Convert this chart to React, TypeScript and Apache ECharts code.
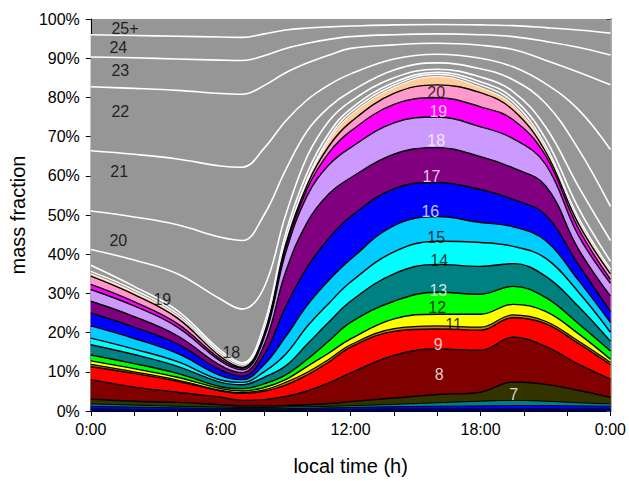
import React, { useEffect, useRef } from "react";
import * as echarts from "echarts";

// sample times (hours)
const T = [0, 2, 4, 6, 7, 8, 9, 10, 11, 12, 14, 16, 18, 19.5, 21, 22.5, 24];

// gray region boundaries (upper edges, % cumulative), white lines
const g24 = [96.0, 95.8, 95.6, 95.4, 95.3, 96.2, 97.2, 97.7, 98.0, 98.2, 98.5, 98.6, 98.5, 98.3, 97.8, 97.2, 96.4];
const g23 = [90.3, 90.1, 89.8, 89.5, 89.4, 90.6, 92.5, 93.8, 94.8, 95.5, 96.0, 96.2, 96.0, 95.5, 94.3, 92.8, 90.8];
const g22 = [82.7, 82.3, 81.8, 81.0, 80.8, 83.0, 86.3, 88.8, 90.8, 92.5, 93.4, 93.8, 93.3, 92.2, 89.5, 86.5, 83.2];
const g21 = [66.4, 65.5, 64.3, 62.5, 62.2, 67.0, 74.0, 79.4, 83.2, 86.0, 89.8, 91.0, 90.0, 87.8, 83.5, 77.0, 66.7];
const g20 = [51.0, 49.5, 47.5, 44.3, 43.5, 50.0, 61.5, 71.5, 77.5, 81.5, 87.0, 88.8, 87.3, 84.5, 78.5, 67.0, 52.2];
const g19 = [41.2, 38.5, 35.0, 28.5, 26.0, 31.5, 50.0, 65.0, 74.0, 79.0, 85.0, 87.2, 85.2, 81.5, 72.5, 57.5, 43.5];
const g18 = [37.2, 31.8, 25.6, 15.4, 12.3, 22.0, 45.3, 60.8, 70.9, 77.1, 83.8, 86.4, 84.0, 79.8, 69.5, 52.0, 38.2];
const g17 = [35.6, 30.9, 24.8, 14.8, 11.9, 20.6, 43.7, 59.2, 69.7, 76.2, 83.1, 85.9, 83.2, 78.8, 67.8, 49.6, 36.2];

// coloured bands (upper edges, % cumulative)
const peach = [35.0, 30.3, 24.2, 14.2, 11.4, 20.0, 43.0, 58.5, 69.0, 75.5, 82.5, 85.3, 82.5, 78.0, 67.0, 48.8, 35.6];
const pink = [34.4, 29.7, 23.7, 13.8, 11.1, 19.6, 42.5, 57.8, 67.6, 73.7, 81.0, 83.2, 81.2, 76.8, 66.2, 48.0, 35.0];
const magenta = [32.3, 27.9, 22.3, 13.2, 10.9, 19.2, 41.7, 56.8, 65.9, 71.4, 78.2, 79.9, 77.6, 74.3, 65.2, 46.8, 33.6];
const lavender = [31.0, 26.8, 21.4, 12.7, 10.5, 18.6, 40.4, 55.0, 62.8, 67.2, 73.5, 75.0, 72.5, 69.5, 63.0, 45.0, 32.6];
const purple = [28.0, 24.1, 19.2, 11.6, 9.8, 16.8, 35.5, 48.2, 55.4, 59.5, 65.5, 67.2, 64.9, 62.0, 57.5, 41.5, 29.3];
const blue = [25.0, 21.4, 17.1, 10.4, 8.9, 14.3, 26.6, 36.7, 44.1, 49.6, 56.7, 58.3, 56.5, 54.0, 50.0, 37.5, 25.4];
const sky = [21.7, 18.5, 14.7, 9.0, 8.0, 11.8, 19.0, 27.0, 33.4, 38.7, 47.3, 49.6, 48.1, 47.0, 43.5, 33.5, 22.6];
const cyan = [18.6, 15.8, 12.6, 7.9, 7.3, 10.0, 14.5, 21.6, 27.5, 32.9, 40.6, 43.3, 43.0, 42.0, 39.0, 30.5, 20.1];
const teal = [16.9, 14.4, 11.4, 7.3, 6.7, 8.6, 11.5, 17.1, 22.7, 28.0, 35.0, 37.4, 36.9, 37.6, 34.4, 26.8, 17.8];
const green = [14.3, 12.1, 9.6, 6.2, 5.7, 6.9, 9.2, 13.2, 17.9, 22.6, 28.0, 30.3, 29.8, 31.8, 29.0, 22.4, 15.3];
const yellow = [12.8, 10.8, 8.6, 5.7, 5.1, 6.0, 8.0, 11.4, 14.8, 18.4, 23.5, 24.7, 24.7, 27.2, 25.4, 19.8, 13.2];
const orange = [11.9, 10.0, 7.9, 5.3, 4.7, 5.4, 7.3, 9.9, 13.2, 16.9, 21.0, 21.7, 21.4, 24.5, 22.9, 17.9, 12.4];
const red = [11.3, 9.6, 7.6, 5.1, 4.5, 5.0, 6.6, 9.2, 12.5, 16.3, 20.3, 20.9, 20.6, 23.8, 22.3, 17.3, 11.8];
const maroon = [8.0, 6.1, 4.8, 3.5, 2.7, 2.9, 3.7, 5.1, 7.2, 9.7, 14.2, 15.8, 15.5, 18.8, 16.5, 12.0, 8.1];
const olive = [3.0, 2.5, 2.2, 1.6, 1.3, 1.3, 1.4, 1.6, 1.9, 2.4, 3.3, 4.2, 4.8, 7.4, 6.8, 5.3, 3.5];
const teal2 = [1.8, 1.5, 1.2, 1.0, 0.9, 0.9, 1.0, 1.1, 1.2, 1.35, 1.7, 2.1, 2.5, 2.7, 2.5, 2.1, 1.8];
const blue2 = [1.2, 1.0, 0.8, 0.7, 0.6, 0.6, 0.6, 0.7, 0.8, 0.9, 1.1, 1.2, 1.3, 1.4, 1.4, 1.3, 1.2];
const navy = [0.5, 0.4, 0.3, 0.3, 0.3, 0.3, 0.3, 0.3, 0.4, 0.4, 0.5, 0.5, 0.5, 0.5, 0.5, 0.5, 0.5];

// band labels
const labelText = ["25+", "24", "23", "22", "21", "20", "19", "18", "20", "19", "18", "17", "16", "15", "14", "13", "12", "11", "9", "8", "7"];
const labelT = [1.58, 1.27, 1.36, 1.36, 1.31, 1.27, 3.3, 6.49, 15.95, 16.05, 15.95, 15.73, 15.68, 15.95, 16.09, 16.05, 16.0, 16.75, 16.05, 16.09, 19.53];
const labelV = [97.5, 92.7, 86.8, 76.5, 61.2, 43.6, 28.4, 14.9, 81.2, 76.3, 69.0, 59.8, 50.9, 44.3, 38.4, 30.8, 26.4, 22.0, 17.0, 9.4, 4.3];
const labelColor = ["#000", "#000", "#000", "#000", "#000", "#000", "#000", "#000", "#000", "#fff", "#fff", "#fff", "#fff", "#000", "#000", "#fff", "#000", "#000", "#fff", "#fff", "#fff"];

const xTickLabels = ["0:00", "6:00", "12:00", "18:00", "0:00"];

const FONT = "Liberation Sans, Arial, sans-serif";
const GRAY = "#969696";

type Band = { name: string; data: number[]; fill: string; line: string; width: number };

const bands: Band[] = [
  { name: "g24", data: g24, fill: GRAY, line: "#ffffff", width: 1.6 },
  { name: "g23", data: g23, fill: GRAY, line: "#ffffff", width: 1.6 },
  { name: "g22", data: g22, fill: GRAY, line: "#ffffff", width: 1.6 },
  { name: "g21", data: g21, fill: GRAY, line: "#ffffff", width: 1.6 },
  { name: "g20", data: g20, fill: GRAY, line: "#ffffff", width: 1.6 },
  { name: "g19", data: g19, fill: GRAY, line: "#ffffff", width: 1.6 },
  { name: "g18", data: g18, fill: GRAY, line: "#ffffff", width: 1.6 },
  { name: "g17", data: g17, fill: GRAY, line: "#ffffff", width: 1.4 },
  { name: "peach", data: peach, fill: "#FFCC99", line: "#ffffff", width: 1 },
  { name: "pink", data: pink, fill: "#FF99CC", line: "#000000", width: 1.4 },
  { name: "magenta", data: magenta, fill: "#FF00FF", line: "#000000", width: 1.4 },
  { name: "lavender", data: lavender, fill: "#CC99FF", line: "#000000", width: 1.4 },
  { name: "purple", data: purple, fill: "#800080", line: "#000000", width: 1.4 },
  { name: "blue", data: blue, fill: "#0000FF", line: "#000000", width: 1.4 },
  { name: "sky", data: sky, fill: "#00CCFF", line: "#000000", width: 1.4 },
  { name: "cyan", data: cyan, fill: "#00FFFF", line: "#000000", width: 1.4 },
  { name: "teal", data: teal, fill: "#008080", line: "#000000", width: 1.4 },
  { name: "green", data: green, fill: "#00FF00", line: "#000000", width: 1.4 },
  { name: "yellow", data: yellow, fill: "#FFFF00", line: "#000000", width: 1.4 },
  { name: "orange", data: orange, fill: "#CC7A00", line: "#000000", width: 1.2 },
  { name: "red", data: red, fill: "#FF0000", line: "#000000", width: 1.4 },
  { name: "maroon", data: maroon, fill: "#800000", line: "#000000", width: 1.4 },
  { name: "olive", data: olive, fill: "#333300", line: "#000000", width: 1.4 },
  { name: "teal2", data: teal2, fill: "#008080", line: "#000000", width: 1 },
  { name: "blue2", data: blue2, fill: "#0000FF", line: "#000000", width: 1 },
  { name: "navy", data: navy, fill: "#000066", line: "#000000", width: 1 },
];

export default function App() {
  const ref = useRef<HTMLDivElement>(null);
  useEffect(() => {
    if (!ref.current) return;
    const chart = echarts.init(ref.current, undefined, { renderer: "svg" });
    const series: any[] = bands.map((b) => ({
      name: b.name,
      type: "line",
      data: T.map((t, i) => [t, b.data[i]]),
      smooth: 0.4,
      symbol: "none",
      silent: true,
      lineStyle: { color: b.line, width: b.width },
      areaStyle: { color: b.fill, opacity: 1 },
    }));
    series.push({
      type: "scatter",
      silent: true,
      z: 10,
      symbol: "circle",
      symbolSize: 1,
      itemStyle: { color: "rgba(0,0,0,0)" },
      data: labelText.map((txt, i) => ({
        value: [labelT[i], labelV[i]],
        label: {
          show: true,
          position: "inside",
          formatter: txt,
          color: labelColor[i],
          fontSize: 16,
          fontFamily: FONT,
        },
      })),
    });
    chart.setOption({
      animation: false,
      backgroundColor: "#ffffff",
      grid: { left: 82, right: 16, top: 19, bottom: 69, show: true, backgroundColor: GRAY, borderWidth: 0 },
      xAxis: {
        type: "value",
        min: 0,
        max: 24,
        interval: 6,
        name: "local time (h)",
        nameLocation: "middle",
        nameGap: 45,
        nameTextStyle: { fontSize: 20, color: "#000", fontFamily: FONT },
        axisLine: { show: true, onZero: false, lineStyle: { color: "#000", width: 1 } },
        axisTick: { show: true, length: 5, lineStyle: { color: "#000" } },
        minorTick: { show: true, splitNumber: 3, length: 5, lineStyle: { color: "#000" } },
        splitLine: { show: false },
        minorSplitLine: { show: false },
        axisLabel: {
          fontSize: 16,
          color: "#000",
          fontFamily: FONT,
          margin: 10,
          formatter: (v: number) => xTickLabels[Math.round(v / 6)],
        },
      },
      yAxis: [
        {
          type: "value",
          min: 0,
          max: 100,
          interval: 10,
          name: "mass fraction",
          nameLocation: "middle",
          nameGap: 54,
          nameTextStyle: { fontSize: 20, color: "#000", fontFamily: FONT },
          axisLine: { show: true, lineStyle: { color: "#000", width: 1 } },
          axisTick: { show: true, length: 5, lineStyle: { color: "#000" } },
          splitLine: { show: false },
          axisLabel: { fontSize: 16, color: "#000", fontFamily: FONT, margin: 11, formatter: "{value}%" },
        },
        {
          type: "value",
          min: 0,
          max: 100,
          interval: 10,
          position: "right",
          axisLine: { show: true, lineStyle: { color: "#aaaaaa", width: 2 } },
          axisTick: { show: true, inside: true, length: 4, lineStyle: { color: "#444" } },
          axisLabel: { show: false },
          splitLine: { show: false },
        },
      ],
      series,
    });
    return () => chart.dispose();
  }, []);
  return <div ref={ref} style={{ position: "absolute", left: 0, top: 0, width: 629, height: 481 }} />;
}
